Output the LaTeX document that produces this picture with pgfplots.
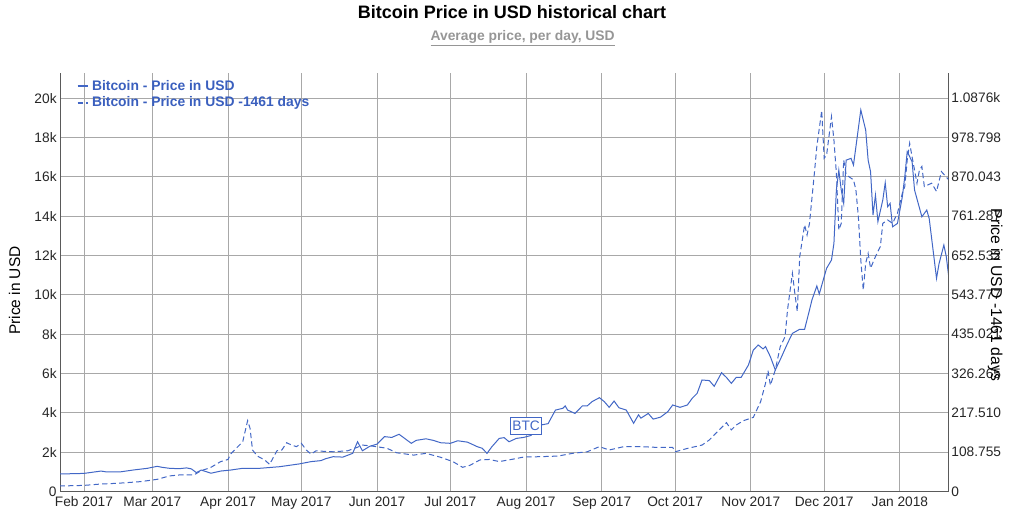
\documentclass[border=0pt]{standalone}
\usepackage{pgfplots}
\pgfplotsset{compat=1.18}
\usepackage{fontspec}
\setmainfont{Liberation Sans}
\definecolor{btc}{RGB}{66,103,198}
\definecolor{legblue}{RGB}{58,95,190}
\definecolor{gridc}{RGB}{168,168,168}
\definecolor{axisc}{RGB}{90,90,90}
\definecolor{subgray}{RGB}{150,150,150}

\pgfplotstableread{
day price
21 890
31 920
38 1040
40 1000
46 1000
51 1090
57 1180
61 1280
63 1230
66 1180
70 1160
73 1200
75 1150
77 960
79 1090
83 930
87 1040
91 1090
96 1180
103 1180
111 1260
119 1400
124 1520
128 1570
130 1670
133 1770
137 1750
141 1940
143 2530
145 2070
148 2300
151 2410
154 2790
157 2750
160 2910
165 2450
167 2600
171 2680
174 2600
177 2480
181 2450
184 2580
188 2510
192 2280
194 2200
196 1940
198 2280
201 2700
203 2740
205 2530
208 2700
211 2750
214 2850
218 3380
221 3450
224 4140
227 4230
228 4350
229 4140
232 3970
235 4350
237 4350
239 4570
242 4770
244 4570
246 4280
248 4600
250 4260
253 4140
256 3470
258 3900
259 3730
262 3970
264 3680
267 3780
270 4060
272 4400
275 4280
278 4400
280 4740
282 4990
284 5670
287 5640
289 5350
292 6040
294 5800
296 5500
298 5800
300 5800
303 6430
305 7190
307 7450
309 7250
310 7370
312 6850
314 6180
316 6700
319 7530
321 8040
324 8250
326 8250
328 9230
329 9740
331 10450
332 10040
334 10920
335 11350
337 11770
338 12620
339 15330
340 16340
341 15330
342 14650
343 16850
345 16940
346 16600
347 17530
349 19400
351 18380
352 16850
353 16260
354 14060
355 15070
356 13720
358 14820
359 15700
360 14480
361 14650
362 13460
364 13630
366 14990
367 16000
368 17280
370 16770
371 15330
374 13970
376 14310
377 13880
380 10840
381 11570
383 12530
384 11940
385 10920
}\pricetable

\pgfplotstableread{
day price
21 15.2
31 16.9
38 20.7
45 22.8
54 27.2
57 29.9
61 33.7
66 43.0
70 45.7
76 45.7
79 57.6
82 64.2
83 66.9
87 82.7
90 88.6
91 103.3
94 124.0
96 137.6
98 195.8
99 174.6
100 114.7
102 97.9
105 87.0
107 75.0
110 112.6
112 114.7
114 134.9
116 128.3
118 124.0
120 133.2
122 114.7
124 103.3
126 112.6
128 111.5
133 109.8
139 112.6
143 122.4
145 128.3
149 125.6
155 119.6
159 107.1
166 100.6
171 105.5
177 94.6
182 82.7
186 66.9
189 72.3
193 87.0
197 88.6
201 82.7
206 88.6
211 95.2
218 96.3
225 97.9
231 105.5
237 109.8
242 124.0
246 114.7
252 124.0
259 124.0
266 121.8
272 121.8
273 109.8
278 119.1
284 128.3
287 142.5
291 170.2
294 190.3
296 170.2
298 183.8
301 195.8
305 205.0
308 248.5
310 299.0
311 334.4
312 293.6
314 336.0
316 400.0
318 428.0
319 502.0
321 603.0
322 547.6
323 497.6
324 649.3
326 736.9
327 709.0
328 741.2
330 879.9
331 953.3
333 1052.8
334 921.2
335 929.9
337 1036.0
338 971.8
339 879.9
340 722.7
341 741.2
342 916.3
343 875.5
346 861.4
347 833.6
348 759.7
349 640.0
350 556.9
351 630.8
352 658.0
353 617.2
355 649.3
357 677.0
358 741.2
360 750.4
362 741.2
364 768.9
366 824.4
367 842.9
368 916.3
369 962.5
370 924.5
372 852.1
373 888.6
374 898.4
375 842.9
378 852.1
380 829.3
382 884.2
385 861.4
}\oldtable

\begin{document}
\begin{tikzpicture}[x=1pt,y=1pt]
\pgfplotsset{
  common/.style={
    scale only axis,
    width=666pt, height=313.875pt,
    at={(45pt,15.375pt)}, anchor=south west,
    xmin=21.2, xmax=384.7,
    scaled y ticks=false, scaled x ticks=false,
    tick label style={font=\fontsize{10.3}{12}\selectfont, text=black!85},
    major tick length=0pt,
    axis line style={axisc, -},
  },
}
\begin{axis}[common,
  ymin=0, ymax=21280,
  axis x line*=bottom, axis y line*=left,
  xtick={31,59,90,120,151,181,212,243,273,304,334,365},
  xticklabels={Feb 2017,Mar 2017,Apr 2017,May 2017,Jun 2017,Jul 2017,Aug 2017,Sep 2017,Oct 2017,Nov 2017,Dec 2017,Jan 2018},
  ytick={0,2000,...,20000},
  yticklabels={0,2k,4k,6k,8k,10k,12k,14k,16k,18k,20k},
  grid=major, major grid style={gridc, line width=0.6pt},
  xticklabel style={yshift=-0.5pt},
  yticklabel style={xshift=1pt},
  ylabel={Price in USD},
  ylabel style={at={(axis description cs:-0.051,0.48)}, anchor=center, rotate=0, font=\fontsize{11.6}{13}\selectfont},
]
\addplot[btc, line width=0.75pt] table[x=day,y=price] {\pricetable};
\node[draw=btc, fill=white, text=btc, inner xsep=1.2pt, inner ysep=2.6pt, line width=0.6pt, font=\fontsize{10.3}{12}\selectfont] at (axis cs:212,3330) {BTC};
\end{axis}
\begin{axis}[common,
  ymin=0, ymax=1156.7,
  axis x line=none, axis y line*=right,
  ytick={0,108.755,217.51,326.265,435.021,543.777,652.532,761.287,870.043,978.798,1087.55},
  yticklabels={0,108.755,217.510,326.265,435.021,543.777,652.532,761.287,870.043,978.798,1.0876k},
  yticklabel style={xshift=-1pt},
  ylabel={Price in USD -1461 days},
  ylabel style={at={(axis description cs:1.053,0.47)}, anchor=center, rotate=180, font=\fontsize{11.8}{13}\selectfont},
  legend style={at={(axis description cs:0.017,0.993)}, anchor=north west, draw=none, fill=none,
    font=\fontsize{10.4}{11.5}\selectfont\bfseries, text=legblue, inner sep=1pt, row sep=-0.5pt,
    cells={anchor=west}},
  legend image code/.code={\draw[#1, line width=1.5pt] (0pt,0pt) -- (8pt,0pt);},
]
\addlegendimage{btc}
\addlegendentry{Bitcoin - Price in USD}
\addplot[btc, line width=0.75pt, dash pattern=on 4pt off 2.4pt] table[x=day,y=price] {\oldtable};
\addlegendentry{Bitcoin - Price in USD -1461 days}
\end{axis}
\node[font=\fontsize{13.5}{15}\selectfont\bfseries] at (384pt,375pt) {Bitcoin Price in USD historical chart};
\node[font=\fontsize{10.4}{12}\selectfont\bfseries, text=subgray] at (392pt,355.3pt) {\underline{Average price, per day, USD}};
\pgfresetboundingbox
\useasboundingbox (0,0) rectangle (768pt,384pt);
\end{tikzpicture}
\end{document}
